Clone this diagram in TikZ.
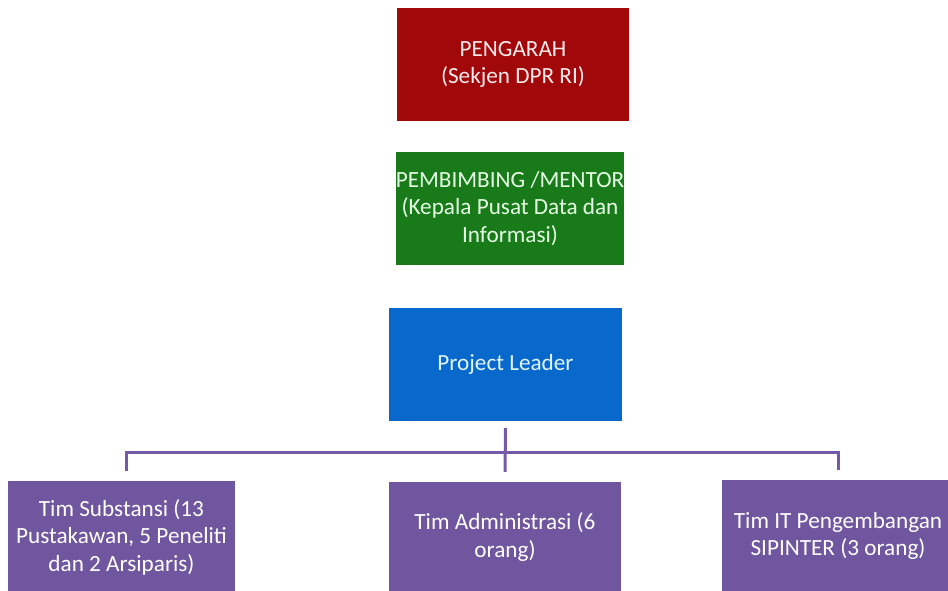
\documentclass[tikz,border=0pt]{standalone}
\usepackage{fontspec}
\setmainfont{Carlito}
\definecolor{boxred}{RGB}{160,8,10}
\definecolor{boxgreen}{RGB}{24,122,24}
\definecolor{boxblue}{RGB}{8,104,204}
\definecolor{boxpurple}{RGB}{112,86,158}
\definecolor{buspurple}{RGB}{118,90,170}
\begin{document}
\begin{tikzpicture}[x=1pt,y=-1pt,
  orgbox/.style={rectangle,inner sep=1pt,minimum width=232pt,minimum height=113pt,
    align=center,text=white,font=\fontsize{23.2}{27.5}\selectfont},
  bus/.style={draw=buspurple,line width=3pt}]
\useasboundingbox (0,0) rectangle (948,590);
\node[orgbox,fill=boxred,text=red!8!white] (pengarah) at (513,64.5) {PENGARAH\\(Sekjen DPR RI)};
\node[orgbox,fill=boxgreen,minimum width=228pt,inner xsep=0pt,text=green!10!white] (mentor) at (510,208.5) {PEMBIMBING /MENTOR\\(Kepala Pusat Data dan\\Informasi)};
\node[orgbox,fill=boxblue,minimum width=233pt,text=cyan!12!white] (leader) at (505.5,364.5) {Project Leader};
\node[orgbox,fill=boxpurple,minimum width=227pt,minimum height=112pt] (substansi) at (121.5,537) {Tim Substansi (13\\Pustakawan, 5 Peneliti\\dan 2 Arsiparis)};
\node[orgbox,fill=boxpurple,minimum height=110pt] (admin) at (505,537) {Tim Administrasi (6\\orang)};
\node[orgbox,fill=boxpurple,minimum height=112pt] (it) at (838,536) {Tim IT Pengembangan\\SIPINTER (3 orang)};
\coordinate (busmid) at (506,452);
\draw[bus] ([yshift=-7pt]leader.south) -- ([yshift=10pt]admin.north);
\draw[bus] ([yshift=10pt]substansi.north-|126,0) |- (busmid) -| ([yshift=10pt]it.north);
\end{tikzpicture}
\end{document}
